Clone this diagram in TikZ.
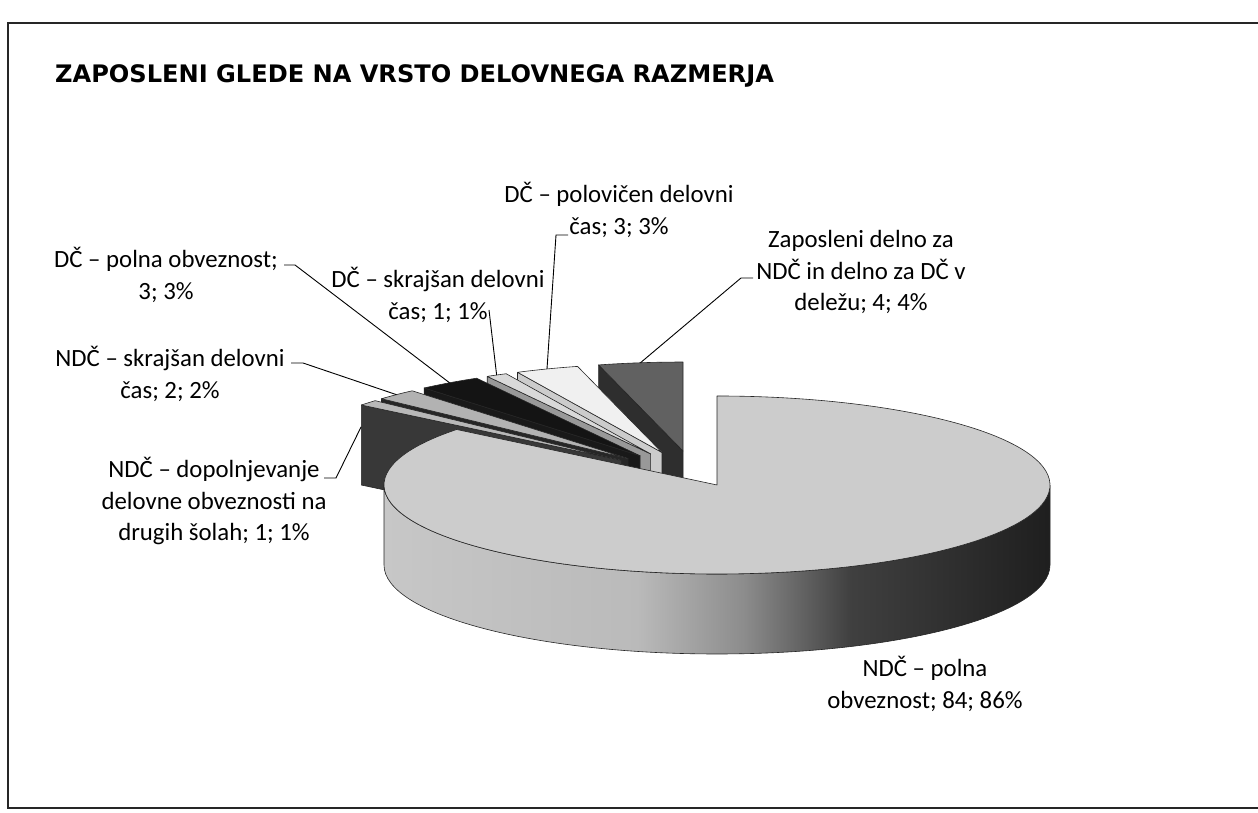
\documentclass[tikz,border=0pt]{standalone}
\usepackage{fontspec}
\setmainfont{Carlito}
\newfontfamily\titlefont{DejaVu Sans}
\usetikzlibrary{calc}
\tikzset{lbl/.style={align=center, inner sep=0pt, font=\fontsize{24.8}{31.5}\selectfont}}
\tikzset{leader/.style={draw=black, line width=0.9pt}}
\tikzset{face/.style={draw=black!85, line width=0.6pt, line join=round}}
\pgfdeclarehorizontalshading{pieside}{100bp}{color(0bp)=(black!22); color(25bp)=(black!22);
  color(44bp)=(black!27); color(52bp)=(black!45); color(60bp)=(black!75); color(75bp)=(black!88);
  color(100bp)=(black!88)}

\newcommand{\smallslice}[5]{
  \pgfmathsetmacro{\midang}{(#1+#2)/2}
  \coordinate (#5) at ({695.4+96.8*cos(\midang)}, {334.6+27.6*sin(\midang)});
  \coordinate (#5-m) at ($(#5)+({333*cos(\midang)},{89*sin(\midang)})$);
  \filldraw[face, fill=#4] (#5) -- ++({333*cos(#2)},{89*sin(#2)}) -- ++(0,-80) -- ($(#5)+(0,-80)$) -- cycle;
  \filldraw[face, fill=#3] (#5) -- ++({333*cos(#1)},{89*sin(#1)})
    arc[start angle=#1, end angle=#2, x radius=333, y radius=89] -- cycle;
}

\begin{document}
\begin{tikzpicture}[x=1pt, y=1pt]

    \useasboundingbox (0,0) rectangle (1258,813);
    \fill[white] (0,0) rectangle (1258,813);
    \draw[line width=1.2pt, black!85] (1258,790) -- (8,790) -- (8,5) -- (1258,5);

    \node[anchor=base west, inner sep=0pt, font=\titlefont\bfseries\fontsize{24.1}{29}\selectfont] (title)
      at (55,730) {ZAPOSLENI GLEDE NA VRSTO DELOVNEGA RAZMERJA};

    \smallslice{90}{104.69}{black!62}{black!82}{s1}
    \smallslice{104.69}{115.71}{black!6}{black!20}{s2}
    \smallslice{115.71}{119.39}{black!15}{black!40}{s3}
    \smallslice{119.39}{130.41}{black!92}{black!90}{s4}
    \smallslice{130.41}{137.76}{black!30}{black!85}{s5}
    \smallslice{137.76}{141.43}{black!28}{black!78}{s6}

    \coordinate (big) at (717,328);
    \shadedraw[face, shading=pieside] ($(big)+(-333,0)$)
      arc[start angle=180, end angle=360, x radius=333, y radius=89] -- ++(0,-80)
      arc[start angle=360, end angle=180, x radius=333, y radius=89] -- cycle;
    \filldraw[face, fill=black!20] (big) -- ++({333*cos(141.43)},{89*sin(141.43)})
      arc[start angle=141.43, end angle=450, x radius=333, y radius=89] -- cycle;

    \node[lbl] (lbl-pol) at (619,603) {DČ – polovičen delovni\\čas; 3; 3\%};
    \node[lbl] (lbl-zap) at (861,541) {Zaposleni delno za\\NDČ in delno za DČ v\\deležu; 4; 4\%};
    \node[lbl] (lbl-dpo) at (166,538) {DČ – polna obveznost;\\3; 3\%};
    \node[lbl] (lbl-dsk) at (438,518) {DČ – skrajšan delovni\\čas; 1; 1\%};
    \node[lbl] (lbl-nsk) at (170,439) {NDČ – skrajšan delovni\\čas; 2; 2\%};
    \node[lbl] (lbl-ndo) at (214,312) {NDČ – dopolnjevanje\\delovne obveznosti na\\drugih šolah; 1; 1\%};
    \node[lbl] (lbl-npo) at (925,129) {NDČ – polna\\obveznost; 84; 86\%};

    \coordinate (c-pol) at (568,578);
    \coordinate (c-zap) at (753,535);
    \coordinate (c-dpo) at (284,548);
    \coordinate (c-dsk) at (489,503);
    \coordinate (c-nsk) at (291,450);
    \coordinate (c-ndo) at (324,335);
    \coordinate (s6-t) at ($(s6-m)+(-7,-24)$);

    \draw[leader] (c-pol) -- ++(-12,0) -- (s2-m);
    \draw[leader] (c-zap) -- ++(-12,0) -- (s1-m);
    \draw[leader] (c-dpo) -- ++(11,0) -- (s4-m);
    \draw[leader] (c-dsk) -- (s3-m);
    \draw[leader] (c-nsk) -- ++(12,0) -- (s5-m);
    \draw[leader] (c-ndo) -- ++(12,0) -- (s6-t);

\end{tikzpicture}
\end{document}
